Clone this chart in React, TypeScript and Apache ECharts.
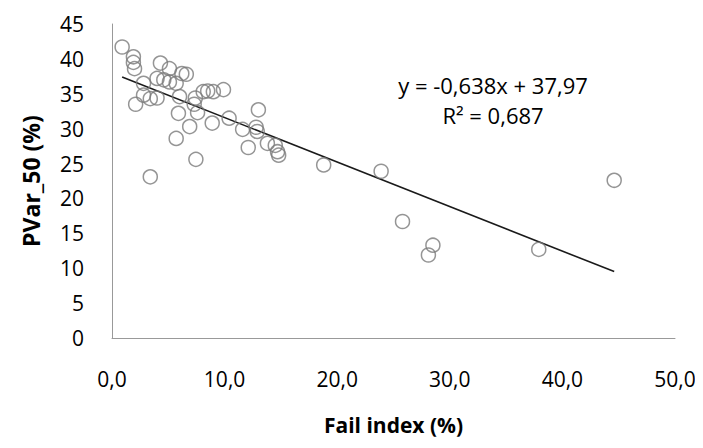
import React, { useEffect, useRef } from "react";
import * as echarts from "echarts";

const failIndex: number[] = [
  0.9, 1.9, 1.9, 2.0, 4.3, 5.1, 6.2, 6.6, 4.0, 4.6, 5.1, 5.7, 2.8, 2.8, 3.4, 4.0,
  2.1, 6.0, 5.9, 7.6, 7.4, 7.3, 8.1, 8.5, 9.0, 9.9, 6.9, 8.9, 10.4, 5.7, 7.45, 3.4,
  13.0, 11.6, 12.8, 12.9, 12.1, 13.8, 14.5, 14.7, 14.8, 18.8, 23.9, 25.8, 28.5, 28.1,
  37.9, 44.6,
];
const pvar50: number[] = [
  41.7, 40.3, 39.5, 38.6, 39.4, 38.6, 37.9, 37.8, 37.2, 37.0, 36.7, 36.5, 36.5, 34.8, 34.3, 34.4,
  33.5, 34.6, 32.2, 32.3, 34.4, 33.5, 35.3, 35.4, 35.3, 35.6, 30.3, 30.8, 31.5, 28.6, 25.6, 23.1,
  32.7, 29.9, 30.2, 29.6, 27.3, 27.9, 27.6, 26.7, 26.2, 24.8, 23.9, 16.7, 13.3, 11.9,
  12.7, 22.6,
];
const slope = -0.638;
const intercept = 37.97;
const equationText = "y = -0,638x + 37,97";
const r2Text = "R² = 0,687";
const xTitle = "Fail index (%)";
const yTitle = "PVar_50 (%)";

const FONT = "'Open Sans', 'DejaVu Sans', sans-serif";

export default function App() {
  const ref = useRef<HTMLDivElement>(null);
  useEffect(() => {
    if (!ref.current) return;
    const chart = echarts.init(ref.current, undefined, { renderer: "svg" });
    const pts = failIndex.map((x, i) => [x, pvar50[i]]);
    const xMin = Math.min(...failIndex);
    const xMax = Math.max(...failIndex);
    const trend = [
      [xMin, intercept + slope * xMin],
      [xMax, intercept + slope * xMax],
    ];
    chart.setOption({
      animation: false,
      backgroundColor: "#ffffff",
      grid: { left: 112, right: 28, top: 24, bottom: 110 },
      xAxis: {
        type: "value",
        min: 0,
        max: 50,
        interval: 10,
        name: xTitle,
        nameLocation: "middle",
        nameGap: 76,
        nameTextStyle: { fontFamily: FONT, fontSize: 21, fontWeight: "bold", color: "#000" },
        axisLine: { show: true, lineStyle: { color: "#999999", width: 1 } },
        axisTick: { show: false },
        splitLine: { show: false },
        axisLabel: {
          fontFamily: FONT,
          fontSize: 21,
          color: "#000",
          margin: 30,
          formatter: (v: number) => v.toFixed(1).replace(".", ","),
        },
      },
      yAxis: {
        type: "value",
        min: 0,
        max: 45,
        interval: 5,
        name: yTitle,
        nameLocation: "middle",
        nameGap: 70,
        nameTextStyle: { fontFamily: FONT, fontSize: 23, fontWeight: "bold", color: "#000" },
        axisLine: { show: true, lineStyle: { color: "#999999", width: 1 } },
        axisTick: { show: false },
        splitLine: { show: false },
        axisLabel: { fontFamily: FONT, fontSize: 21, color: "#000", margin: 28 },
      },
      graphic: [
        {
          type: "text",
          x: 493,
          y: 85,
          style: {
            text: equationText,
            fontFamily: FONT,
            fontSize: 22,
            fill: "#000",
            align: "center",
            verticalAlign: "middle",
          },
        },
        {
          type: "text",
          x: 493,
          y: 115,
          style: {
            text: r2Text,
            fontFamily: FONT,
            fontSize: 22,
            fill: "#000",
            align: "center",
            verticalAlign: "middle",
          },
        },
      ],
      series: [
        {
          type: "scatter",
          data: pts,
          symbol: "circle",
          symbolSize: 14,
          itemStyle: { color: "rgba(255,255,255,0)", borderColor: "#7a7a7a", borderWidth: 1.5 },
          z: 3,
        },
        {
          type: "line",
          data: trend,
          symbol: "none",
          lineStyle: { color: "#1a1a1a", width: 1.6 },
          z: 2,
        },
      ],
    });
    return () => chart.dispose();
  }, []);
  return <div ref={ref} style={{ width: 703, height: 448, margin: -8 }} />;
}
